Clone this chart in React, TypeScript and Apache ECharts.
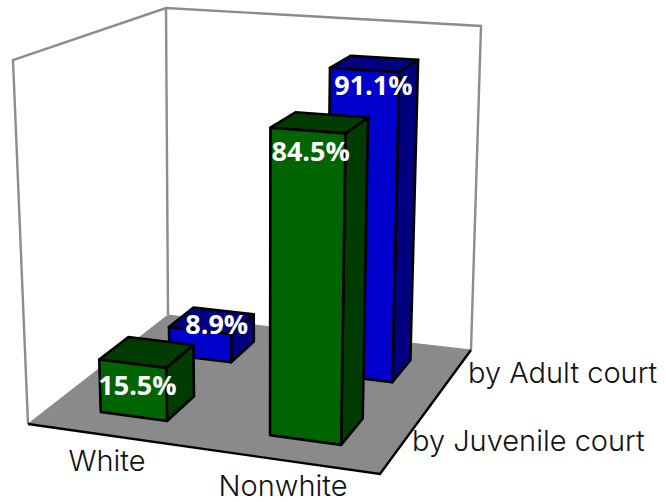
import React, { useEffect, useRef } from "react";
import * as echarts from "echarts";

const categories = ["White", "Nonwhite"];
const depthNames = ["by Juvenile court", "by Adult court"];
const juvenileValues = [15.5, 84.5];
const adultValues = [8.9, 91.1];

const WIDTH = 666;
const HEIGHT = 502;
const AXIS_FONT = '300 29px "Inter", sans-serif';
const VALUE_FONT = 'bold 27px "Open Sans", sans-serif';

// Projection of the unit box (u across, v in depth, z up) to the page.
const PX = [325.6, 170.67, -15.78, 28];
const PY = [17.09, -51.49, -365, 424];
const PW = [-0.06944, 0.18257, -0.06, 1];
function project(u: number, v: number, z: number): [number, number] {
  const w = PW[0] * u + PW[1] * v + PW[2] * z + PW[3];
  return [
    (PX[0] * u + PX[1] * v + PX[2] * z + PX[3]) / w,
    (PY[0] * u + PY[1] * v + PY[2] * z + PY[3]) / w,
  ];
}

const BAR_HALF = 0.1;
const depthCentres = [0.25, 0.75];
// label nudges, [series][category], in px from the front-top centre
const labelNudges = [
  [[5, 21], [3, 20]],
  [[17, -7], [9, 15]],
];
// the open frame of the box, page pixels
const frameOutline: [number, number][] = [[28, 424], [13, 60], [166, 8], [481, 26], [471, 350]];
const frameEdge: [number, number][] = [[166, 8], [168, 315]];

function boxRenderer(depthIndex: number, front: string, dark: string) {
  return (params: any, api: any) => {
    const cat = api.value(0);
    const val = api.value(1);
    const pt = api.coord([cat, val]);
    const u = pt[0] / WIDTH;
    const z = 1 - pt[1] / HEIGHT;
    const v = depthCentres[depthIndex];
    const u0 = u - BAR_HALF;
    const u1 = u + BAR_HALF;
    const v0 = v - BAR_HALF;
    const v1 = v + BAR_HALF;
    const stroke = { stroke: "#000", lineWidth: 2.6, lineJoin: "round" };
    const face = (points: [number, number][], fill: string) => ({
      type: "polygon",
      shape: { points },
      style: { fill, ...stroke },
    });
    const ft = project(u, v0, z);
    const nudge = labelNudges[depthIndex][params.dataIndex];
    return {
      type: "group",
      children: [
        face(
          [project(u1, v0, 0), project(u1, v1, 0), project(u1, v1, z), project(u1, v0, z)],
          dark,
        ),
        face(
          [project(u0, v0, z), project(u1, v0, z), project(u1, v1, z), project(u0, v1, z)],
          dark,
        ),
        face(
          [project(u0, v0, 0), project(u1, v0, 0), project(u1, v0, z), project(u0, v0, z)],
          front,
        ),
        {
          type: "text",
          z2: 10,
          style: {
            text: val.toFixed(1) + "%",
            x: ft[0] + nudge[0],
            y: ft[1] + nudge[1],
            fill: "#fff",
            font: VALUE_FONT,
            align: "center",
            verticalAlign: "middle",
          },
        },
      ],
    };
  };
}

function axisText(text: string, x: number, y: number, align: string) {
  return {
    type: "text",
    style: { text, x, y, font: AXIS_FONT, fill: "#111", align, verticalAlign: "middle", lineHeight: 26 },
  };
}

export default function App() {
  const ref = useRef<HTMLDivElement>(null);
  useEffect(() => {
    document.body.style.margin = "0";
    const chart = echarts.init(ref.current!, undefined, { renderer: "svg" });
    const wall = { stroke: "#8c8c8c", lineWidth: 2.4, fill: "none" };
    chart.setOption({
      animation: false,
      grid: { left: 0, right: 0, top: 0, bottom: 0 },
      xAxis: { type: "category", data: categories, show: false },
      yAxis: { type: "value", min: 0, max: 100, show: false },
      graphic: [
        {
          type: "polygon",
          z: -2,
          shape: {
            points: [project(0, 0, 0), project(1, 0, 0), project(1, 1, 0), project(0, 1, 0)],
          },
          style: { fill: "#8a8a8a", stroke: "#8a8a8a", lineWidth: 1 },
        },
        { type: "polyline", z: -1, shape: { points: frameOutline }, style: wall },
        { type: "polyline", z: -1, shape: { points: frameEdge }, style: wall },
        {
          type: "polyline",
          z: -1,
          shape: { points: [project(0, 0, 0), project(1, 0, 0), project(1, 1, 0)] },
          style: { stroke: "#000", lineWidth: 2.4, fill: "none" },
        },
        axisText(categories[0], 107, 460, "center"),
        axisText(categories[1], 283, 485, "center"),
        axisText(depthNames[1], 468, 372, "left"),
        axisText(depthNames[0], 412, 440, "left"),
      ],
      series: [
        {
          type: "custom",
          clip: false,
          renderItem: boxRenderer(1, "#0000cd", "#000080"),
          data: adultValues.map((value, i) => [i, value]),
        },
        {
          type: "custom",
          clip: false,
          renderItem: boxRenderer(0, "#006400", "#003c00"),
          data: juvenileValues.map((value, i) => [i, value]),
        },
      ],
    });
    return () => chart.dispose();
  }, []);
  return <div ref={ref} style={{ width: WIDTH, height: HEIGHT }} />;
}
